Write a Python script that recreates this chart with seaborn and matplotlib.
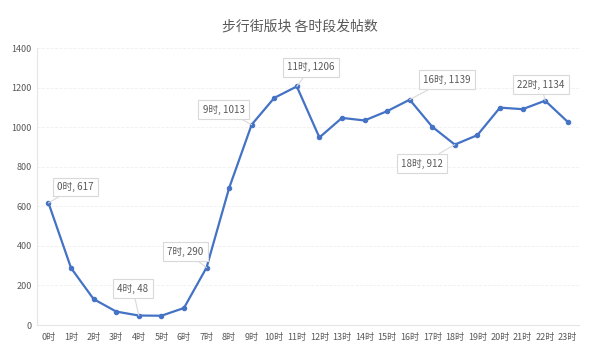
import matplotlib

matplotlib.use("Agg")
import matplotlib.pyplot as plt
import pandas as pd
import seaborn as sns

sns.set_theme(style="white")
plt.rcParams["font.family"] = ["Noto Sans CJK SC", "DejaVu Sans"]

BLUE, GREY, LIGHT = "#4472c4", "#595959", "#d9d9d9"

hours = [f"{h}时" for h in range(24)]
posts = [617, 288, 131, 68, 48, 47, 86, 290, 692, 1013, 1148, 1206,
         948, 1047, 1034, 1081, 1139, 1002, 912, 960, 1099, 1091, 1134, 1027]
labelled = [0, 4, 7, 9, 11, 16, 18, 22]

# label box offsets from the point, in pixels
offsets = {0: (27, 16), 4: (-6, 27), 7: (-21, 16), 9: (-28, 15),
           11: (14, 19), 16: (37, 20), 18: (-33, -19), 22: (-4, 16)}

df = pd.DataFrame({"hour": hours, "posts": posts})

fig, ax = plt.subplots(figsize=(6, 3.56), dpi=100)
fig.subplots_adjust(left=0.062, right=0.965, bottom=0.087, top=0.865)

sns.lineplot(data=df, x="hour", y="posts", sort=False, color=BLUE,
             linewidth=1.6, marker="o", markersize=3.2,
             markeredgecolor=BLUE, ax=ax)

for i in labelled:
    ax.annotate(f"{hours[i]}, {posts[i]}", xy=(i, posts[i]),
                xytext=offsets[i], textcoords="offset pixels",
                ha="center", va="center", fontsize=7, color=GREY,
                bbox=dict(boxstyle="square,pad=0.45", fc="white",
                          ec=LIGHT, lw=0.8),
                arrowprops=dict(arrowstyle="-", color=LIGHT, lw=0.8,
                                shrinkA=0, shrinkB=0))

ax.set_xlim(-0.5, 23.5)
ax.set_ylim(0, 1400)
ax.set_yticks(range(0, 1401, 200))
ax.set_xlabel("")
ax.set_ylabel("")
ax.grid(axis="y", color="#f0f0f0", lw=0.6, ls="--")
ax.tick_params(axis="both", labelsize=6.5, colors=GREY, length=0, pad=4)
ax.tick_params(axis="x", pad=6)

for side in ["top", "right"]:
    ax.spines[side].set_visible(False)
for side in ["left", "bottom"]:
    ax.spines[side].set_color("#e6e6e6")
    ax.spines[side].set_linewidth(0.8)

fig.suptitle("步行街版块 各时段发帖数", fontsize=10, color=GREY, y=0.945, x=0.5)

fig.savefig("out.png", dpi=100)
